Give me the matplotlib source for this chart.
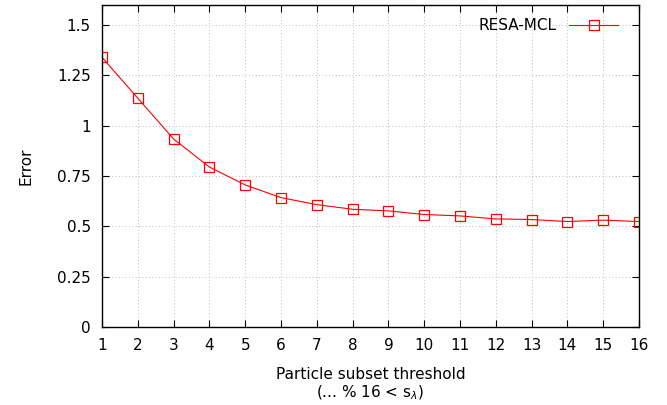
import matplotlib
matplotlib.use('Agg')
import matplotlib.pyplot as plt

# data
threshold = [1, 2, 3, 4, 5, 6, 7, 8, 9, 10, 11, 12, 13, 14, 15, 16]
error = [1.34, 1.137, 0.934, 0.795, 0.706, 0.643, 0.608, 0.585, 0.577,
         0.559, 0.552, 0.537, 0.534, 0.524, 0.531, 0.524]
yticks = [0, 0.25, 0.5, 0.75, 1, 1.25, 1.5]
ytick_labels = ['0', '0.25', '0.5', '0.75', '1', '1.25', '1.5']

plt.rcParams['font.family'] = ['DejaVu Sans']
plt.rcParams['font.size'] = 11

fig = plt.figure(figsize=(6.67, 4.05), dpi=100)
ax = fig.add_axes([102 / 667, 1 - 327 / 405, (639 - 102) / 667, (327 - 5) / 405])

ax.plot(threshold, error, color='red', lw=0.8, marker='s', markersize=6.5,
        markerfacecolor='none', markeredgecolor='red', markeredgewidth=0.9,
        label='RESA-MCL')

ax.set_xlim(1, 16)
ax.set_ylim(0, 1.6)
ax.set_xticks(threshold)
ax.set_yticks(yticks)
ax.set_yticklabels(ytick_labels)
ax.tick_params(direction='in', top=True, right=True, length=5, width=0.8,
               pad=8, labelsize=11)
ax.grid(True, linestyle=(0, (1, 3)), color='#a8a8a8', linewidth=0.6)
for s in ax.spines.values():
    s.set_linewidth(1.0)

ax.set_ylabel('Error', labelpad=17)
ax.set_xlabel('Particle subset threshold\n(... % 16 < s$_\\lambda$)',
              labelpad=10, linespacing=1.15)

ax.legend(loc='upper right', frameon=False, markerfirst=False,
          handlelength=3.2, fontsize=11, borderaxespad=0.45,
          bbox_to_anchor=(0.985, 1.0))

fig.savefig('out.png', dpi=100)
